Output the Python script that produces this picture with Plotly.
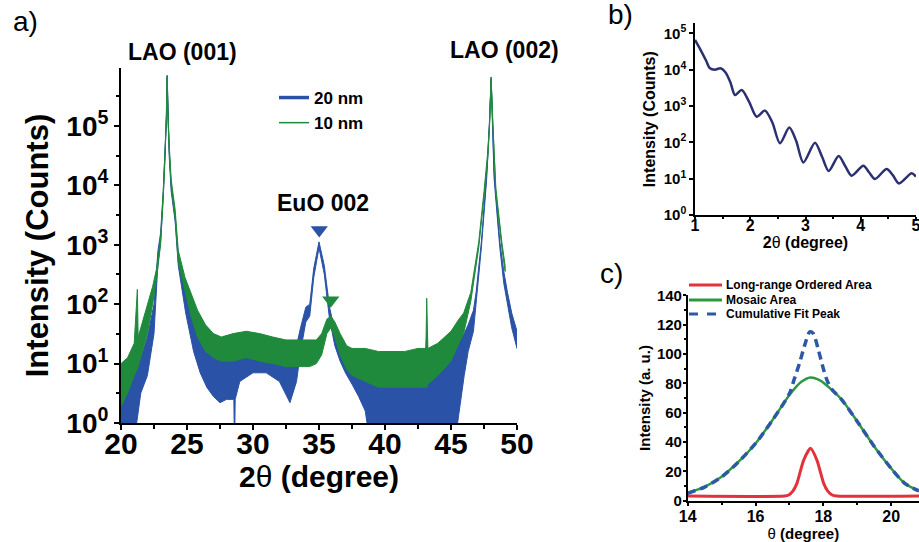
import plotly.graph_objects as go

W, H = 919, 542
FONT = "Liberation Sans, Arial, sans-serif"
BLUE = "#2a52a6"
GREEN = "#1f8a3c"
NAVY = "#2b3170"
C_RED = "#e2323c"
C_GREEN = "#2b9a3e"
C_BLUE = "#2d58a6"

# ---------------- Panel a: XRD 2theta scan (noise band envelopes, counts) ----------------
a20_x = [20.0, 20.5, 21.0, 21.5, 22.0, 22.5, 22.8, 23.0, 23.2, 23.35, 23.45, 23.5, 23.55, 23.65, 23.8,
         24.1, 24.34, 24.6, 24.9, 25.5, 26.0, 26.5, 27.0, 27.5, 28.0, 28.55, 28.6, 28.65, 29.0, 30.0,
         31.0, 32.0, 32.8, 33.3, 33.6, 34.0, 34.3, 34.6, 35.0, 35.4, 35.8, 36.2, 36.6, 37.0, 37.5,
         38.0, 38.5, 39.0, 40.0, 41.0, 42.0, 43.0, 43.16, 43.3, 44.0, 45.0, 45.5, 46.0, 46.3, 46.7,
         46.9, 47.3, 47.7, 47.9, 48.04, 48.15, 48.27, 48.7, 49.0, 49.28, 49.6, 50.0]
a20_hi = [2.8, 5.6, 8.9, 12.6, 28, 100, 794, 1585, 7940, 39800, 158000, 708000, 158000, 39800, 10000,
          3160, 631, 316, 158, 56, 28, 20, 16, 14, 12.6, 13, 14, 14, 20, 28,
          28, 22, 20, 20, 40, 89, 100, 400, 1120, 450, 89, 35, 22, 18, 14,
          11, 8.9, 7.9, 7.1, 6.3, 7.1, 7.9, 32, 7.9, 8.9, 14, 22, 32, 45, 79,
          158, 1120, 15800, 100000, 661000, 100000, 15800, 1120, 355, 158, 71, 35]
a20_lo = [0.3, 0.3, 0.5, 3.2, 6.3, 32, 501, 1122, 6310, 31600, 141000, 661000, 141000, 31600, 7940,
          2510, 447, 178, 71, 16, 7, 4, 2.8, 2.2, 2.5, 2.5, 0.3, 2.5, 5, 7,
          7, 5, 2.2, 5, 16, 50, 63, 280, 890, 320, 56, 20, 11, 7, 4.5,
          2.8, 1.6, 0.3, 0.3, 0.3, 0.3, 0.3, 0.3, 0.3, 0.3, 0.3, 1.0, 6.3, 16, 35,
          89, 890, 12600, 89100, 603000, 89100, 12600, 890, 224, 100, 40, 18]

a10_x = [20.0, 20.5, 21.0, 21.24, 21.3, 21.5, 22.0, 22.4, 22.7, 23.0, 23.2, 23.35, 23.45, 23.5, 23.55,
         23.65, 23.8, 24.1, 24.34, 24.85, 25.3, 25.8, 26.4, 27.0, 27.6, 28.5, 29.5, 30.5, 31.5, 32.5,
         33.5, 34.3, 34.8, 35.2, 35.6, 35.9, 36.2, 36.6, 37.1, 37.5, 38.5, 39.5, 40.5, 41.5, 42.5,
         43.1, 43.16, 43.25, 44.0, 45.0, 45.6, 45.96, 46.5, 47.1, 47.5, 47.8, 47.93, 48.04, 48.15, 48.4,
         48.85, 49.1]
a10_hi = [10, 12.6, 22, 178, 28, 40, 89, 200, 400, 1260, 7940, 39800, 158000, 708000, 158000,
          50100, 12600, 3980, 794, 282, 158, 79, 45, 32, 28, 32, 35, 32, 28, 25,
          25, 25, 25, 32, 56, 63, 50, 32, 20, 18, 18, 16, 16, 16, 18,
          18, 126, 18, 22, 35, 56, 71, 158, 1120, 7940, 39800, 126000, 661000, 126000, 8910,
          1120, 447]
a10_lo = [1.9, 3.2, 6.3, 8, 8.9, 12.6, 32, 100, 282, 1000, 6310, 31600, 141000, 661000, 141000,
          39800, 10000, 2820, 501, 158, 63, 28, 16, 12.6, 11, 11, 12.6, 11, 10, 8.9,
          8.9, 8.9, 10, 14, 32, 40, 28, 14, 8, 6.3, 5, 4, 4, 4, 4,
          4, 4, 4.5, 6.3, 11, 22, 32, 112, 890, 6310, 31600, 112000, 603000, 112000, 7080,
          890, 355]

euo_x = [35.02, 35.89]
euo_y = [1780, 117]

# ---------------- Panel b: XRR ----------------
b_x = [1.00, 1.10, 1.20, 1.27, 1.36, 1.46, 1.55, 1.64, 1.724, 1.845, 1.98, 2.116, 2.267, 2.40, 2.538,
       2.707, 2.83, 2.961, 3.172, 3.30, 3.419, 3.60, 3.72, 3.835, 4.047, 4.15, 4.258, 4.469, 4.58,
       4.692, 4.922, 5.00]
b_y = [65600, 35000, 17800, 10900, 10000, 10900, 8500, 4500, 2010, 2750, 1300, 508, 745, 350, 94,
       254, 110, 28, 98, 40, 16.3, 42, 22, 12.1, 22.8, 15, 9.8, 18.5, 12.5,
       7.4, 14, 11.4]

# ---------------- Panel c: rocking curve fit ----------------
c_red_x = [14.0, 16.85, 16.98, 17.1, 17.22, 17.42, 17.62, 17.81, 18.01, 18.13, 18.26, 18.4, 20.82]
c_red_y = [3.2, 3.2, 3.9, 6.5, 11.8, 27.7, 35.7, 27.7, 11.8, 6.5, 3.9, 3.2, 3.2]
c_green_x = [14.0, 14.5, 15.0, 15.5, 16.0, 16.5, 17.0, 17.35, 17.62, 17.9, 18.25, 18.55, 19.0, 19.5,
             20.0, 20.4, 20.82]
c_green_y = [5.5, 9.5, 16.4, 26.6, 39, 55, 72, 81, 84, 82, 75.5, 68.6, 54, 37, 22, 11.8, 6.8]
c_cum_x = [14.0, 14.5, 15.0, 15.5, 16.0, 16.5, 17.0, 17.13, 17.3, 17.45, 17.6, 17.7, 17.85, 18.0,
           18.11, 18.25, 18.55, 19.0, 19.5, 20.0, 20.4, 20.82]
c_cum_y = [5.0, 9.3, 16.2, 26.5, 39, 55, 73, 82, 94, 106, 115, 114, 103, 90, 82, 76, 68.6, 54, 37, 22,
           11.8, 6.6]
c_names = ["Long-range Ordered Area", "Mosaic Area", "Cumulative Fit Peak"]

fig = go.Figure()

# panel a bands
for xs, hi, lo, col in [(a20_x, a20_hi, a20_lo, BLUE), (a10_x, a10_hi, a10_lo, GREEN)]:
    fig.add_trace(go.Scatter(x=xs + xs[::-1], y=hi + lo[::-1], mode="lines", fill="toself",
                             fillcolor=col, line=dict(color=col, width=1), showlegend=False,
                             hoverinfo="skip", xaxis="x", yaxis="y"))
for col, name, w in [(BLUE, "20 nm", 3.5), (GREEN, "10 nm", 1.5)]:
    fig.add_trace(go.Scatter(x=[None], y=[None], mode="lines", name=name,
                             line=dict(color=col, width=w), xaxis="x", yaxis="y", legend="legend"))
fig.add_trace(go.Scatter(x=euo_x, y=euo_y, mode="markers", showlegend=False,
                         marker=dict(symbol="triangle-down", size=15, color=[BLUE, GREEN]),
                         xaxis="x", yaxis="y"))

# panel b
fig.add_trace(go.Scatter(x=b_x, y=b_y, mode="lines", line=dict(color=NAVY, width=2.5, shape="spline",
                         smoothing=0.8), showlegend=False, xaxis="x2", yaxis="y2"))

# panel c
fig.add_trace(go.Scatter(x=c_red_x, y=c_red_y, mode="lines", name=c_names[0], showlegend=False,
                         line=dict(color=C_RED, width=3, shape="spline", smoothing=0.6),
                         xaxis="x3", yaxis="y3"))
fig.add_trace(go.Scatter(x=c_green_x, y=c_green_y, mode="lines", name=c_names[1], showlegend=False,
                         line=dict(color=C_GREEN, width=2.5, shape="spline", smoothing=0.8),
                         xaxis="x3", yaxis="y3"))
fig.add_trace(go.Scatter(x=c_cum_x, y=c_cum_y, mode="lines", name=c_names[2], showlegend=False,
                         line=dict(color=C_BLUE, width=3.5, dash="8px,5px", shape="spline",
                                   smoothing=0.8),
                         xaxis="x3", yaxis="y3"))


def px(x):
    return x / W


def py(y):
    return 1 - y / H


def bold(t):
    return "<b>" + t + "</b>"


def sup(n):
    return "10<sup>%d</sup>" % n


axis_common = dict(showline=True, linecolor="black", ticks="outside", tickcolor="black",
                   showgrid=False, zeroline=False, mirror=False, automargin=False,
                   ticklabeloverflow="allow")

fig.update_layout(
    width=W, height=H, margin=dict(l=0, r=0, t=0, b=0),
    paper_bgcolor="white", plot_bgcolor="white",
    font=dict(family=FONT, color="black"),
    xaxis=dict(domain=[px(121), px(517)], range=[20, 50], tickvals=[20, 25, 30, 35, 40, 45, 50],
               linewidth=2, tickwidth=2, ticklen=5, ticklabelstandoff=-12,
               minor=dict(dtick=2.5, ticklen=4, tickwidth=2, ticks="outside", tickcolor="black"),
               tickfont=dict(size=30, weight="bold"), anchor="y",
               title=dict(text="<b>2</b>θ<b> (degree)</b>", font=dict(size=30), standoff=7),
               **axis_common),
    yaxis=dict(domain=[py(423), py(68)], type="log", range=[0, 5.976],
               tickvals=[1, 10, 100, 1000, 10000, 100000], ticktext=[sup(i) for i in range(6)],
               linewidth=2, tickwidth=2, ticklen=5,
               minor=dict(tickvals=[3.162, 31.62, 316.2, 3162, 31620, 316200], ticklen=3,
                          tickwidth=2, ticks="outside", tickcolor="black"),
               tickfont=dict(size=28, weight="bold"), anchor="x",
               title=dict(text="Intensity (Counts)", font=dict(size=31, weight="bold"), standoff=8),
               **axis_common),
    xaxis2=dict(domain=[px(695), px(916)], range=[1, 5], tickvals=[1, 2, 3, 4, 5],
                linewidth=1.5, tickwidth=1.5, ticklen=4, ticklabelstandoff=-9,
                minor=dict(dtick=0.5, ticklen=2, tickwidth=1.5, ticks="outside", tickcolor="black"),
                tickfont=dict(size=16, weight="bold"), anchor="y2",
                title=dict(text="<b>2</b>θ<b> (degree)</b>", font=dict(size=16), standoff=1),
                **axis_common),
    yaxis2=dict(domain=[py(215), py(23.3)], type="log", range=[0, 5.275],
                tickvals=[1, 10, 100, 1000, 10000, 100000], ticktext=[sup(i) for i in range(6)],
                linewidth=1.5, tickwidth=1.5, ticklen=4,
                tickfont=dict(size=15, weight="bold"), anchor="x2",
                title=dict(text="Intensity (Counts)", font=dict(size=16, weight="bold"), standoff=4),
                **axis_common),
    xaxis3=dict(domain=[px(687.7), 1.0], range=[14, 20.82], tickvals=[14, 16, 18, 20],
                linewidth=1.5, tickwidth=1.5, ticklen=4, ticklabelstandoff=-4,
                minor=dict(dtick=1, ticklen=3, tickwidth=1.5, ticks="outside", tickcolor="black"),
                tickfont=dict(size=16, weight="bold"), anchor="y3",
                title=dict(text="θ<b> (degree)</b>", font=dict(size=15), standoff=0),
                **axis_common),
    yaxis3=dict(domain=[py(500.7), py(295.3)], range=[0, 140], tickvals=list(range(0, 141, 20)),
                linewidth=1.5, tickwidth=1.5, ticklen=3, ticklabelstandoff=-2,
                minor=dict(dtick=10, ticklen=2, tickwidth=1.5, ticks="outside", tickcolor="black"),
                tickfont=dict(size=15, weight="bold"), anchor="x3",
                title=dict(text="Intensity (a. u.)", font=dict(size=15, weight="bold"), standoff=3),
                **axis_common),
    legend=dict(x=px(274), y=py(80), xanchor="left", yanchor="top", bgcolor="rgba(0,0,0,0)",
                font=dict(size=17, weight="bold"), tracegroupgap=0),
)

annotations = [
    dict(text="a)", x=px(25), y=py(21), font=dict(size=28)),
    dict(text="b)", x=px(620), y=py(15), font=dict(size=28)),
    dict(text="c)", x=px(611), y=py(273), font=dict(size=28)),
    dict(text=bold("LAO (001)"), x=px(182), y=py(52), font=dict(size=23)),
    dict(text=bold("LAO (002)"), x=px(504), y=py(50), font=dict(size=23)),
    dict(text=bold("EuO 002"), x=px(323), y=py(203), font=dict(size=23)),
]
# manual legend for panel c
leg_y = [285, 300, 314]
leg_col = [C_RED, C_GREEN, C_BLUE]
shapes = []
for name, yy, col, dash in zip(c_names, leg_y, leg_col, ["solid", "solid", "dash"]):
    annotations.append(dict(text=bold(name), x=px(724), y=py(yy), xanchor="left",
                            font=dict(size=12)))
    shapes.append(dict(type="line", xref="paper", yref="paper", x0=px(689), x1=px(722),
                       y0=py(yy), y1=py(yy), line=dict(color=col, width=3, dash=dash)))
for a in annotations:
    a.update(xref="paper", yref="paper", showarrow=False)
    a.setdefault("xanchor", "center")
    a.setdefault("yanchor", "middle")
    a["font"] = dict(family=FONT, color="black", **a["font"])
fig.update_layout(annotations=annotations, shapes=shapes)

fig.write_html("out.html", config={"displayModeBar": False},
               post_script="document.body.style.margin='0';")
